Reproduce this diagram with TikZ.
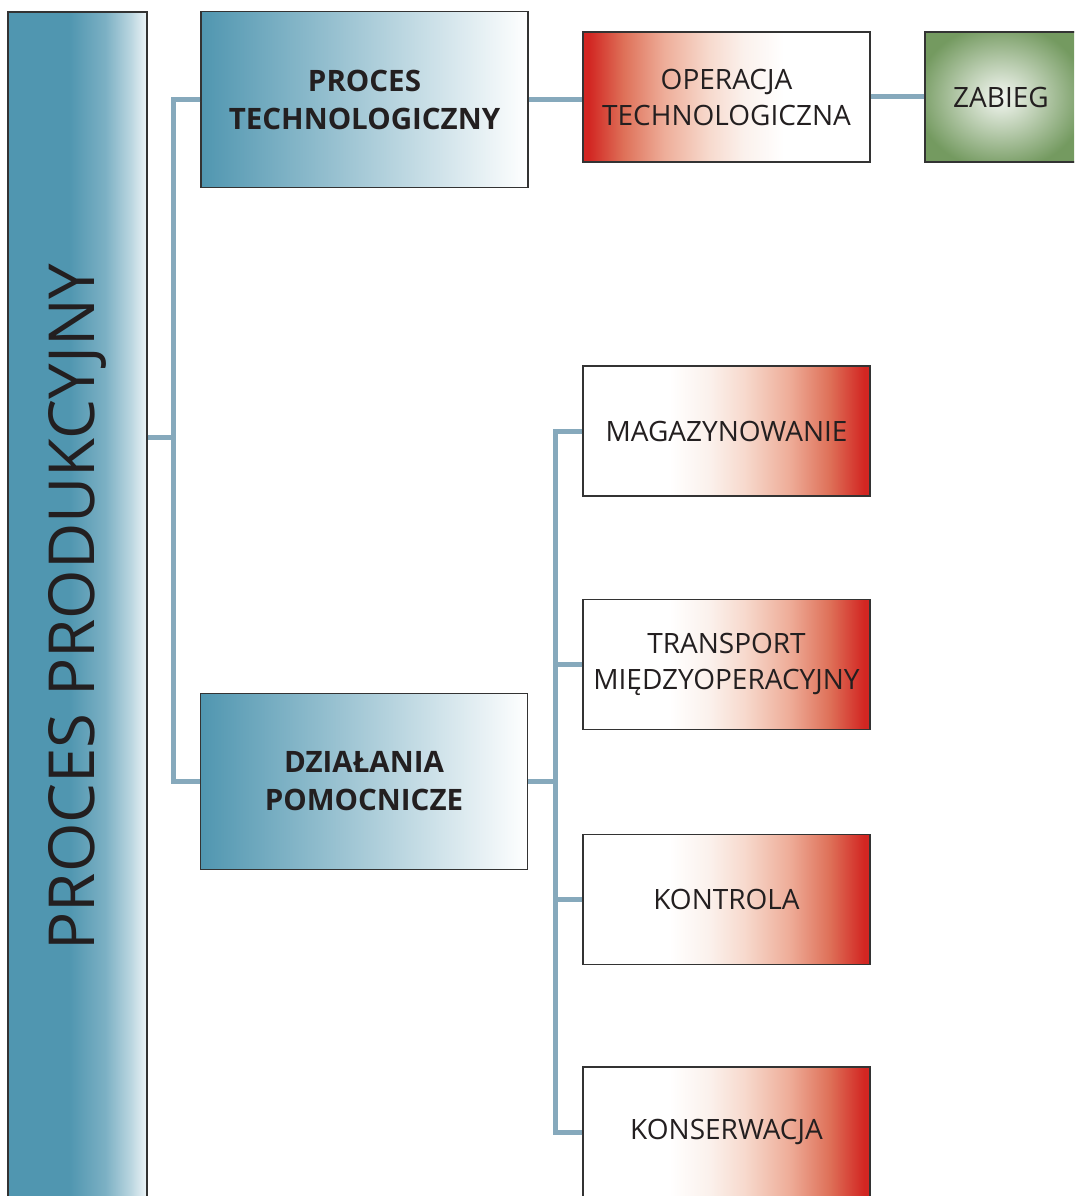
\documentclass[tikz,border=0pt]{standalone}
\usepackage{fontspec}
\setmainfont{Open Sans}
\usepackage{graphicx}
\definecolor{procTeal}{RGB}{80,150,176}
\definecolor{linkBlue}{RGB}{134,169,188}
\definecolor{opRed}{RGB}{210,38,34}
\definecolor{stepGreen}{RGB}{116,154,96}
\definecolor{inkGray}{RGB}{35,31,32}
\colorlet{tealA}{procTeal!75!white}
\colorlet{tealB}{procTeal!40!white}
\colorlet{tealC}{procTeal!10!white}
\definecolor{redA}{RGB}{222,112,88}
\definecolor{redB}{RGB}{238,172,152}
\definecolor{redC}{RGB}{247,218,206}
\definecolor{redD}{RGB}{251,241,236}
\colorlet{greenLight}{stepGreen!8!white}
\colorlet{greenMid}{stepGreen!50!white}
\usetikzlibrary{positioning}

\pgfdeclarehorizontalshading{barshade}{100bp}{color(0bp)=(procTeal); color(25bp)=(procTeal); color(47bp)=(procTeal); color(60bp)=(tealA); color(69bp)=(tealB); color(75bp)=(tealC); color(100bp)=(tealC)}
\pgfdeclarehorizontalshading{redleft}{100bp}{color(0bp)=(opRed); color(26bp)=(opRed); color(32bp)=(redA); color(39bp)=(redB); color(47bp)=(redC); color(53bp)=(redD); color(60bp)=(white); color(100bp)=(white)}
\pgfdeclarehorizontalshading{redright}{100bp}{color(0bp)=(white); color(40bp)=(white); color(47bp)=(redD); color(53bp)=(redC); color(61bp)=(redB); color(68bp)=(redA); color(74bp)=(opRed); color(100bp)=(opRed)}
\pgfdeclareradialshading{zabshade}{\pgfpoint{0bp}{0bp}}{color(0bp)=(greenLight); color(13bp)=(greenMid); color(28bp)=(stepGreen); color(50bp)=(stepGreen)}

\begin{document}
\begin{tikzpicture}[x=1pt,y=-1pt,
    box/.style={draw=black!80,line width=1.2pt,inner sep=0pt,align=center,text=inkGray,
                font=\fontsize{28}{36}\selectfont},
    bar/.style={box,shading=barshade,minimum width=139pt,minimum height=1190pt,
                font=\fontsize{63.5}{63.5}\selectfont},
    stagebox/.style={box,left color=procTeal,right color=white,minimum width=327pt,
                minimum height=176pt,font=\fontsize{29.5}{38}\selectfont\bfseries},
    opbox/.style={box,shading=redleft,minimum width=287pt,minimum height=130pt},
    auxbox/.style={box,shading=redright,minimum width=287pt,minimum height=130pt},
    stepbox/.style={box,shading=zabshade,minimum width=152pt,minimum height=130pt},
    link/.style={draw=linkBlue,line width=5pt}
  ]
  \path[use as bounding box,clip] (0,0) rectangle (1074,1196);

  % glowny pasek
  \node[bar] (prod) at (77.5,607) {\rotatebox{90}{PROCES PRODUKCYJNY}};

  % dwa rodzaje dzialan
  \node[stagebox] (tech) at (364.5,99.5) {PROCES\\TECHNOLOGICZNY};
  \node[stagebox] (aux) at (364,781.5) {DZIAŁANIA\\POMOCNICZE};

  \node[opbox] (oper) at (726.5,97) {OPERACJA\\TECHNOLOGICZNA};
  \node[stepbox] (zab) at (1001,97) {ZABIEG};

  \node[auxbox] (mag) at (726.5,431) {MAGAZYNOWANIE};
  \node[auxbox] (trans) at (726.5,664.5) {TRANSPORT\\MIĘDZYOPERACYJNY};
  \node[auxbox] (kontr) at (726.5,899.5) {KONTROLA};
  \node[auxbox] (kons) at (726.5,1132) {KONSERWACJA};

  % polaczenia
  \coordinate (trunk) at (173,437);
  \coordinate (spine) at (555,781.5);
  \draw[link] (prod.east |- trunk) -- (trunk);
  \draw[link] (tech.west) -| (trunk);
  \draw[link] (aux.west) -| (trunk);
  \draw[link] (tech.east) -- (tech.east -| oper.west);
  \draw[link] (oper.east) -- (zab.west);
  \draw[link] (aux.east) -- (spine);
  \foreach \n in {mag,trans,kontr,kons}
    \draw[link] (\n.west) -| (spine);
\end{tikzpicture}
\end{document}
